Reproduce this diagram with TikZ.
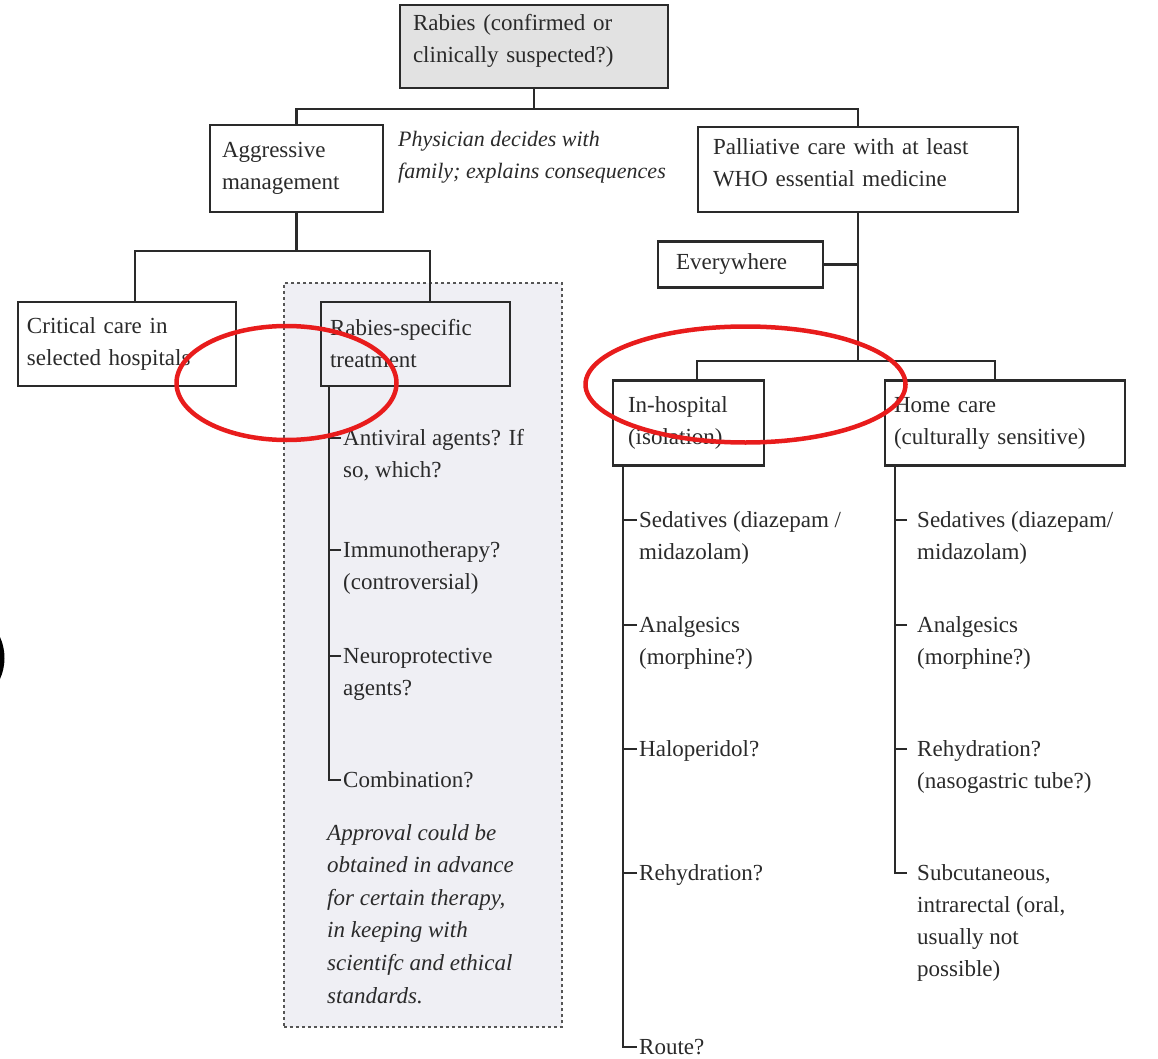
\documentclass[tikz,border=0pt]{standalone}
\usepackage{fontspec}
\setmainfont{Liberation Serif}
\usetikzlibrary{calc}
\definecolor{ink}{HTML}{2A2A2A}
\definecolor{panelfill}{HTML}{EFEFF4}
\definecolor{rootfill}{HTML}{E2E2E2}
\definecolor{dashink}{HTML}{555555}
\definecolor{ringred}{HTML}{E81C1C}
\newcommand\mylines[1]{\begin{tabular}[t]{@{}l@{}}#1\end{tabular}}
\begin{document}
\begin{tikzpicture}[x=1pt,y=-1pt,
  every node/.style={font=\fontsize{23}{32}\selectfont, text=ink},
  box/.style={draw=ink, line width=2.3pt, rectangle, align=left, inner ysep=0pt},
  item/.style={inner sep=0pt, anchor=base west},
  note/.style={inner sep=0pt, anchor=base west, font=\fontsize{23}{32.6}\selectfont\itshape},
  link/.style={draw=ink, line width=2.2pt},
  ring/.style={draw=ringred, line width=4.5pt}]
\useasboundingbox (0,0) rectangle (1158,1059);

% shaded panel for rabies-specific treatment
\node[draw=dashink, dashed, fill=panelfill, line width=1.3pt, minimum width=278pt, minimum height=744pt, inner sep=0pt] (panel) at (423,655) {};

% boxes
\node[box, fill=rootfill, minimum width=268pt, minimum height=83pt, text width=242pt, inner xsep=13pt] (root) at (534,46.5) {Rabies (confirmed or\\clinically suspected?)\\[-16pt]\mbox{}};
\node[box, fill=white, minimum width=173pt, minimum height=87pt, text width=149pt, inner xsep=12pt] (agg) at (296.5,168.5) {Aggressive\\management};
\node[box, fill=white, minimum width=320pt, minimum height=85pt, text width=290pt, inner xsep=15pt] (pal) at (858,169.5) {Palliative care with at least\\WHO essential medicine\\[-18pt]\mbox{}};
\node[box, fill=white, minimum width=165pt, minimum height=46pt, text width=129pt, inner xsep=18pt] (ev) at (740.5,264.5) {Everywhere};
\node[box, fill=white, minimum width=218pt, minimum height=84pt, text width=200pt, inner xsep=9pt] (crit) at (127,344) {Critical care in\\selected hospitals};
\node[box, fill=panelfill, minimum width=189pt, minimum height=84pt, text width=171pt, inner xsep=9pt] (rs) at (415.5,344) {Rabies-specific\\treatment};
\node[box, fill=white, minimum width=151pt, minimum height=85pt, text width=121pt, inner xsep=15pt] (inh) at (688.5,423) {In-hospital\\(isolation)};
\node[box, fill=white, minimum width=240pt, minimum height=85pt, text width=222pt, inner xsep=9pt] (home) at (1005,423) {Home care\\(culturally sensitive)};

% notes
\node[note, font=\fontsize{22}{32}\selectfont\itshape] (phys) at (398,147) {\mylines{Physician decides with\\family; explains consequences}};
\node[note] (appr) at (327,840) {\mylines{Approval could be\\obtained in advance\\for certain therapy,\\in keeping with\\scientifc and ethical\\standards.}};

% tree connectors
\coordinate (rj) at ($(root.south)+(0,20)$);
\draw[link] (root.south) -- (rj);
\draw[link] (agg.north) |- (rj) -| (pal.north);
\coordinate (aj) at ($(agg.south)+(0,38)$);
\draw[link] (agg.south) -- (aj);
\draw[link] ([xshift=8pt]crit.north) |- (aj) -| ([xshift=14.5pt]rs.north);
\coordinate (pj) at ($(pal.south)+(0,148)$);
\draw[link] (pal.south) -- (pj);
\draw[link] ([xshift=8.5pt]inh.north) |- (pj) -| ([xshift=-10pt]home.north);
\draw[link] (ev.east) -- (ev.east -| pal.south);

% rabies-specific items
\node[item] (r1) at (343,445) {\mylines{Antiviral agents? If\\so, which?}};
\node[item] (r2) at (343,557) {\mylines{Immunotherapy?\\(controversial)}};
\node[item] (r3) at (343,663) {\mylines{Neuroprotective\\agents?}};
\node[item] (r4) at (343,787) {Combination?};
\coordinate (rsp) at ([xshift=9pt]rs.south west);
\draw[link] (rsp) |- ([xshift=-2pt,yshift=7pt]r4.base west);
\foreach \n in {r1,r2,r3}
  \draw[link] ([xshift=-2pt,yshift=7pt]\n.base west) -- ([yshift=7pt]\n.base west -| rsp);

% in-hospital items
\node[item] (i1) at (639,527) {\mylines{Sedatives (diazepam /\\midazolam)}};
\node[item] (i2) at (639,632) {\mylines{Analgesics\\(morphine?)}};
\node[item] (i3) at (639,756) {Haloperidol?};
\node[item] (i4) at (639,880) {Rehydration?};
\node[item] (i5) at (639,1054) {Route?};
\coordinate (isp) at ([xshift=11pt]inh.south west);
\draw[link] (isp) |- ([xshift=-2pt,yshift=7pt]i5.base west);
\foreach \n in {i1,i2,i3,i4}
  \draw[link] ([xshift=-2pt,yshift=7pt]\n.base west) -- ([yshift=7pt]\n.base west -| isp);

% home care items
\node[item] (h1) at (917,527) {\mylines{Sedatives (diazepam/\\midazolam)}};
\node[item] (h2) at (917,632) {\mylines{Analgesics\\(morphine?)}};
\node[item] (h3) at (917,756) {\mylines{Rehydration?\\(nasogastric tube?)}};
\node[item] (h4) at (917,880) {\mylines{Subcutaneous,\\intrarectal (oral,\\usually not\\possible)}};
\coordinate (hsp) at ([xshift=11pt]home.south west);
\draw[link] (hsp) |- ([xshift=-10pt,yshift=7pt]h4.base west);
\foreach \n in {h1,h2,h3}
  \draw[link] ([xshift=-10pt,yshift=7pt]\n.base west) -- ([yshift=7pt]\n.base west -| hsp);

% red annotation rings
\draw[ring] (286.5,383) ellipse [x radius=110pt, y radius=57pt];
\draw[ring] (745.5,384.5) ellipse [x radius=160pt, y radius=58pt];

% cut-off mark at the left edge
\fill[black] (0,637) .. controls (6,650) and (6,666) .. (0,679) -- cycle;
\end{tikzpicture}
\end{document}
